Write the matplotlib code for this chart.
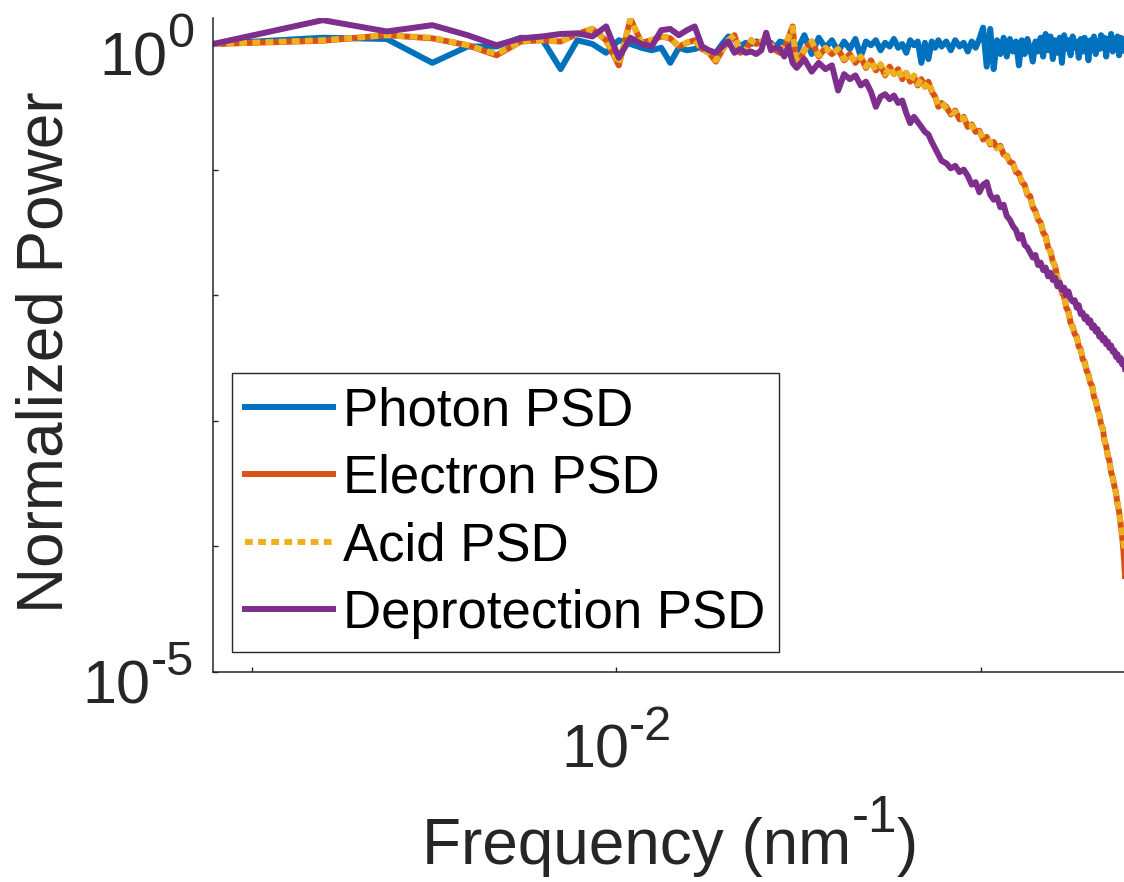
import numpy as np
import matplotlib
matplotlib.use("Agg")
import matplotlib.pyplot as plt
from matplotlib.transforms import IdentityTransform

plt.rcParams['font.family'] = ['Liberation Sans', 'DejaVu Sans']

# Spatial-frequency bins (bin index, grid spacing 1/1280 nm^-1)
bin_step = 1280.0
bins = list(range(1, 41)) + list(range(42, 101, 2)) + list(range(103, 320, 3))

# log10 of normalized power for each PSD
photon_log = [
    0.00, 0.05, 0.04, -0.15, -0.02, -0.02, 0.05, 0.04, -0.20, 0.03,
    0.00, -0.07, 0.03, 0.00, -0.03, -0.05, -0.03, -0.15, -0.03, -0.05,
    -0.04, -0.02, -0.06, -0.07, 0.00, 0.06, 0.04, -0.02, 0.01, 0.00,
    0.02, 0.01, 0.02, 0.01, -0.03, 0.02, 0.01, 0.00, 0.06, -0.06,
    0.07, -0.08, 0.05, -0.03, 0.03, -0.06, 0.02, -0.04, 0.04, -0.10,
    0.02, -0.01, 0.03, -0.05, 0.01, -0.02, 0.04, -0.03, 0.00, -0.07,
    0.03, -0.01, 0.02, -0.15, 0.01, -0.12, 0.02, -0.03, 0.03, -0.02,
    0.02, -0.05, 0.03, -0.02, 0.01, -0.06, 0.02, -0.03, 0.04, 0.13,
    -0.18, 0.12, -0.20, 0.03, -0.08, 0.05, -0.10, 0.04, -0.06, 0.02,
    -0.17, 0.03, -0.08, 0.04, -0.04, -0.14, 0.02, -0.06, 0.05, -0.10,
    0.08, -0.05, 0.06, -0.12, 0.03, -0.07, 0.05, -0.15, 0.07, -0.04,
    0.03, -0.09, 0.06, -0.03, 0.02, -0.11, 0.04, -0.06, 0.05, -0.02,
    -0.13, 0.03, -0.05, 0.06, -0.08, 0.02, -0.04, 0.07, -0.03, 0.05,
    -0.10, 0.04, -0.02, 0.08, -0.06, 0.03, -0.04, 0.06, -0.09, 0.05,
    -0.02, 0.04, -0.06,
]

electron_log = [
    0.00, 0.026, 0.07, 0.045, -0.01, -0.09, 0.02, 0.03, 0.02, 0.08,
    0.12, 0.03, -0.17, 0.20, 0.01, 0.03, 0.06, 0.045, -0.02, 0.01,
    0.03, -0.04, -0.07, -0.14, -0.05, 0.03, 0.07, -0.07, -0.05, 0.03,
    0.00, 0.02, 0.03, 0.00, -0.05, -0.07, -0.03, 0.05, 0.14, -0.18,
    -0.05, 0.02, -0.10, -0.03, -0.08, -0.04, -0.13, -0.08, -0.15, -0.10,
    -0.19, -0.13, -0.21, -0.17, -0.25, -0.18, -0.24, -0.20, -0.28, -0.23,
    -0.30, -0.26, -0.33, -0.28, -0.34, -0.30, -0.38, -0.42, -0.50, -0.47,
    -0.50, -0.56, -0.53, -0.60, -0.58, -0.66, -0.64, -0.70, -0.69, -0.76,
    -0.74, -0.80, -0.78, -0.83, -0.81, -0.88, -0.89, -0.94, -0.95, -1.02,
    -1.03, -1.10, -1.12, -1.20, -1.21, -1.30, -1.33, -1.40, -1.42, -1.50,
    -1.53, -1.62, -1.65, -1.73, -1.77, -1.87, -1.90, -1.98, -2.01, -2.10,
    -2.13, -2.22, -2.25, -2.31, -2.33, -2.41, -2.43, -2.51, -2.53, -2.60,
    -2.63, -2.70, -2.72, -2.81, -2.84, -2.91, -2.95, -3.03, -3.06, -3.16,
    -3.20, -3.28, -3.32, -3.41, -3.45, -3.52, -3.57, -3.66, -3.72, -3.82,
    -3.92, -4.05, -4.25,
]

acid_log = [
    0.00, 0.03, 0.07, 0.05, -0.01, -0.08, 0.02, 0.03, 0.02, 0.08,
    0.12, 0.03, -0.16, 0.20, 0.01, 0.03, 0.06, 0.05, -0.02, 0.01,
    0.03, -0.04, -0.07, -0.13, -0.05, 0.03, 0.07, -0.06, -0.05, 0.03,
    0.00, 0.02, 0.03, 0.00, -0.05, -0.07, -0.03, 0.05, 0.13, -0.17,
    -0.05, 0.02, -0.09, -0.03, -0.08, -0.04, -0.12, -0.08, -0.15, -0.10,
    -0.18, -0.13, -0.21, -0.16, -0.24, -0.18, -0.24, -0.20, -0.27, -0.23,
    -0.30, -0.25, -0.32, -0.28, -0.34, -0.30, -0.37, -0.42, -0.49, -0.47,
    -0.51, -0.55, -0.54, -0.59, -0.59, -0.65, -0.65, -0.70, -0.70, -0.75,
    -0.75, -0.79, -0.79, -0.83, -0.82, -0.87, -0.90, -0.93, -0.96, -1.01,
    -1.04, -1.09, -1.13, -1.19, -1.22, -1.29, -1.34, -1.39, -1.43, -1.49,
    -1.54, -1.61, -1.66, -1.72, -1.78, -1.86, -1.91, -1.97, -2.02, -2.09,
    -2.14, -2.21, -2.26, -2.30, -2.34, -2.40, -2.44, -2.50, -2.54, -2.59,
    -2.64, -2.69, -2.73, -2.80, -2.85, -2.90, -2.96, -3.02, -3.07, -3.15,
    -3.21, -3.27, -3.33, -3.40, -3.46, -3.51, -3.58, -3.65, -3.73, -3.81,
    -3.90, -3.98, -4.05,
]

deprotection_log = [
    0.00, 0.19, 0.10, 0.15, 0.07, -0.01, 0.045, 0.06, 0.08, 0.085,
    0.06, 0.14, -0.11, 0.05, 0.00, -0.02, 0.11, 0.12, 0.07, 0.11,
    0.14, -0.02, -0.05, -0.07, -0.02, 0.02, -0.07, -0.04, -0.07, -0.06,
    -0.08, -0.05, 0.09, -0.05, -0.03, -0.04, -0.10, -0.02, -0.15, -0.19,
    -0.12, -0.22, -0.15, -0.20, -0.17, -0.37, -0.24, -0.28, -0.25, -0.33,
    -0.30, -0.38, -0.50, -0.42, -0.40, -0.44, -0.41, -0.47, -0.45, -0.55,
    -0.63, -0.58, -0.62, -0.66, -0.70, -0.72, -0.78, -0.83, -0.88, -0.93,
    -0.95, -0.99, -0.97, -1.02, -1.00, -1.05, -1.12, -1.10, -1.18, -1.12,
    -1.10, -1.20, -1.24, -1.22, -1.30, -1.28, -1.37, -1.40, -1.45, -1.48,
    -1.55, -1.52, -1.60, -1.62, -1.66, -1.70, -1.68, -1.76, -1.74, -1.80,
    -1.78, -1.85, -1.82, -1.88, -1.86, -1.93, -1.90, -1.96, -1.94, -2.00,
    -1.97, -2.03, -2.05, -2.04, -2.10, -2.08, -2.15, -2.14, -2.19, -2.17,
    -2.22, -2.20, -2.26, -2.24, -2.29, -2.27, -2.33, -2.31, -2.36, -2.34,
    -2.39, -2.37, -2.42, -2.40, -2.45, -2.44, -2.49, -2.47, -2.52, -2.50,
    -2.55, -2.53, -2.59,
]

series_labels = ['Photon PSD', 'Electron PSD', 'Acid PSD', 'Deprotection PSD']
series_colors = ['#0072BD', '#D95319', '#EDB120', '#7E2F8E']

freq = np.array(bins) / bin_step

W, H = 1124, 882
fig = plt.figure(figsize=(W / 100, H / 100), dpi=100)
ax = fig.add_axes([213 / W, 1 - 672 / H, (1125.6 - 213) / W, (672 - 18) / H])

lw = 4.3
ax.plot(freq, 10 ** np.array(photon_log), color=series_colors[0], lw=lw,
        label=series_labels[0])
ax.plot(freq, 10 ** np.array(electron_log), color=series_colors[1], lw=lw,
        label=series_labels[1])
ax.plot(freq, 10 ** np.array(acid_log), color=series_colors[2], lw=lw,
        linestyle=(0, (1.3, 0.9)), dash_capstyle='butt', label=series_labels[2])
ax.plot(freq, 10 ** np.array(deprotection_log), color=series_colors[3], lw=lw,
        label=series_labels[3])

ax.set_xscale('log')
ax.set_yscale('log')
ax.set_xlim(1 / bin_step, 320 / bin_step)
ax.set_ylim(1e-5, 10 ** 0.207)

ax.set_xticks([1e-3, 1e-2, 1e-1])
ax.set_yticks([1e-5, 1e-4, 1e-3, 1e-2, 1e-1, 1e0])
ax.set_xticklabels([])
ax.set_yticklabels([])
ax.minorticks_off()

text_color = '#262626'
ax.tick_params(direction='in', length=3.6, width=1, colors=text_color)
for side in ('top', 'right'):
    ax.spines[side].set_visible(False)
for side in ('left', 'bottom'):
    ax.spines[side].set_color(text_color)
    ax.spines[side].set_linewidth(1.1)

leg = ax.legend(loc='lower left', bbox_to_anchor=(0.0208, 0.0306),
                borderaxespad=0, fontsize=38, frameon=True, fancybox=False,
                framealpha=1, edgecolor='#262626', handlelength=1.67,
                handletextpad=0.19, labelspacing=0.33, borderpad=0.25)
leg.get_frame().set_linewidth(1)

# Composite labels with raised exponents, laid out in pixel coordinates
renderer = fig.canvas.get_renderer()
ident = IdentityTransform()


def text_width(s, size):
    t = fig.text(0, 0, s, fontsize=size)
    w = t.get_window_extent(renderer).width
    t.remove()
    return w


def power_text(pieces, x_px, baseline_px, align='right', color=text_color):
    """pieces: list of (text, fontsize, rise_px); positions in image pixels."""
    widths = [text_width(s, sz) for s, sz, _ in pieces]
    total = sum(widths)
    if align == 'right':
        x = x_px - total
    elif align == 'center':
        x = x_px - total / 2
    else:
        x = x_px
    for (s, sz, rise), w in zip(pieces, widths):
        fig.text(x, H - baseline_px + rise, s, fontsize=sz, color=color,
                 ha='left', va='baseline', transform=ident)
        x += w


base_fs, exp_fs, rise = 44, 35, 28
ytick_px = {0: 44, -5: 672}
for e, ypx in ytick_px.items():
    power_text([('10', base_fs, 0), (str(e), exp_fs, rise)], 194, ypx + 31,
               align='right')
power_text([('10', base_fs, 0), ('-2', exp_fs, rise)], 616.5, 768, align='center')

# Axis labels
power_text([('Frequency (nm', 46, 0), ('-1', 37, 32), (')', 46, 0)],
           670, 864, align='center')
fig.text(63, H - 352, 'Normalized Power', fontsize=46, color=text_color,
         rotation=90, rotation_mode='anchor', ha='center', va='baseline',
         transform=ident)

fig.savefig('out.png', dpi=100)
